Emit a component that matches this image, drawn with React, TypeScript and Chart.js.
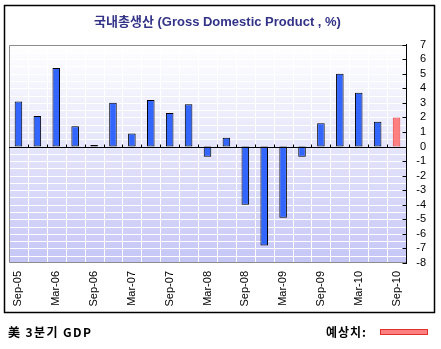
import React, { useEffect, useRef } from 'react';
import { Chart, registerables } from 'chart.js';

Chart.register(...registerables);

const quarters = [
  'Sep-05', 'Dec-05', 'Mar-06', 'Jun-06', 'Sep-06', 'Dec-06', 'Mar-07',
  'Jun-07', 'Sep-07', 'Dec-07', 'Mar-08', 'Jun-08', 'Sep-08', 'Dec-08',
  'Mar-09', 'Jun-09', 'Sep-09', 'Dec-09', 'Mar-10', 'Jun-10', 'Sep-10',
];
const gdpValues = [
  3.1, 2.1, 5.4, 1.4, 0.1, 3.0, 0.9, 3.2, 2.3, 2.9, -0.7,
  0.6, -4.0, -6.8, -4.9, -0.7, 1.6, 5.0, 3.7, 1.7, 2.0,
];
const estimateFlags = [
  false, false, false, false, false, false, false, false, false, false, false,
  false, false, false, false, false, false, false, false, false, true,
];
const yMin = -8;
const yMax = 7;
const titleText = '국내총생산 (Gross Domestic Product , %)';
const footLeft = '美 3분기 GDP';
const footRight = '예상치:';

const FONT = '"Liberation Sans", Arial, "Noto Sans CJK KR", sans-serif';

const decorPlugin = {
  id: 'decor',
  beforeDraw(chart: any) {
    const { ctx, chartArea: a, scales } = chart;
    const y = scales.y;
    const x = scales.x;
    ctx.save();
    const g = ctx.createLinearGradient(0, a.top, 0, a.bottom);
    g.addColorStop(0, '#ffffff');
    g.addColorStop(1, '#c6c6f6');
    ctx.fillStyle = g;
    ctx.fillRect(a.left, a.top, a.right - a.left, a.bottom - a.top);
    ctx.strokeStyle = '#ffffff';
    ctx.lineWidth = 1;
    for (let v = yMin + 0.5; v < yMax; v += 0.5) {
      const py = Math.round(y.getPixelForValue(v)) + 0.5;
      ctx.beginPath();
      ctx.moveTo(a.left, py);
      ctx.lineTo(a.right, py);
      ctx.stroke();
    }
    for (let i = 1; i < quarters.length; i++) {
      const px = Math.round((x.getPixelForValue(i - 1) + x.getPixelForValue(i)) / 2) + 0.5;
      ctx.beginPath();
      ctx.moveTo(px, a.top);
      ctx.lineTo(px, a.bottom);
      ctx.stroke();
    }
    ctx.strokeStyle = '#8c8c8c';
    ctx.beginPath();
    ctx.moveTo(a.right, Math.round(a.top) + 0.5);
    ctx.lineTo(Math.round(a.left) + 0.5, Math.round(a.top) + 0.5);
    ctx.lineTo(Math.round(a.left) + 0.5, Math.round(a.bottom) - 0.5);
    ctx.lineTo(a.right, Math.round(a.bottom) - 0.5);
    ctx.stroke();
    ctx.restore();
  },
  afterDatasetsDraw(chart: any) {
    const { ctx, chartArea: a, scales } = chart;
    const y = scales.y;
    const x = scales.x;
    ctx.save();
    ctx.strokeStyle = '#000000';
    ctx.lineWidth = 1;
    const zy = Math.round(y.getPixelForValue(0)) + 0.5;
    ctx.beginPath();
    ctx.moveTo(a.left, zy);
    ctx.lineTo(a.right, zy);
    ctx.stroke();
    for (let i = 1; i < quarters.length; i++) {
      const px = Math.round((x.getPixelForValue(i - 1) + x.getPixelForValue(i)) / 2) + 0.5;
      ctx.beginPath();
      ctx.moveTo(px, zy);
      ctx.lineTo(px, zy - 3);
      ctx.stroke();
    }
    const rx = Math.round(a.right) + 0.5;
    for (let v = yMin; v <= yMax; v++) {
      const py = Math.round(y.getPixelForValue(v)) + 0.5;
      ctx.beginPath();
      ctx.moveTo(rx - 4, py);
      ctx.lineTo(rx, py);
      ctx.stroke();
    }
    ctx.restore();
  },
  afterDraw(chart: any) {
    const { ctx } = chart;
    ctx.save();
    ctx.strokeStyle = '#000000';
    ctx.lineWidth = 1.5;
    ctx.strokeRect(4.5, 5.5, 430, 307);
    ctx.restore();
  },
};

export default function App() {
  const canvasRef = useRef<HTMLCanvasElement | null>(null);

  useEffect(() => {
    const canvas = canvasRef.current;
    if (!canvas) return;
    const chart = new Chart(canvas, {
      type: 'bar',
      data: {
        labels: quarters,
        datasets: [
          {
            data: gdpValues,
            backgroundColor: estimateFlags.map((e) => (e ? '#ff8080' : '#3366ff')),
            borderColor: estimateFlags.map((e) => (e ? '#e83c3c' : '#000000')),
            borderWidth: 1,
            borderSkipped: false,
            barPercentage: 0.4,
            categoryPercentage: 1,
          },
        ],
      },
      options: {
        responsive: false,
        animation: false,
        events: [],
        layout: { padding: { left: 9, right: 15, top: 0, bottom: 37 } },
        plugins: {
          legend: { display: false },
          tooltip: { enabled: false },
          title: {
            display: true,
            text: titleText,
            color: '#333388',
            font: { family: FONT, size: 13, weight: 'bold', lineHeight: 1.2 },
            padding: { top: 15, bottom: 14 },
          },
        },
        scales: {
          x: {
            grid: { display: false, drawTicks: false },
            border: { display: false },
            ticks: {
              autoSkip: false,
              minRotation: 90,
              maxRotation: 90,
              padding: 8,
              color: '#000000',
              font: { family: FONT, size: 11 },
              callback: (_v: any, i: number) => (i % 2 === 0 ? quarters[i] : ''),
            },
            afterFit: (s: any) => {
              s.height = 49;
            },
          },
          y: {
            position: 'right',
            min: yMin,
            max: yMax,
            grid: { display: false, drawTicks: false },
            border: { display: true, color: '#000000', width: 1 },
            ticks: {
              stepSize: 1,
              autoSkip: false,
              padding: 4,
              crossAlign: 'far',
              color: '#000000',
              font: { family: FONT, size: 11 },
            },
            afterFit: (s: any) => {
              s.width = 20;
            },
          },
        },
      },
      plugins: [decorPlugin],
    } as any);
    return () => chart.destroy();
  }, []);

  return (
    <div
      style={{
        position: 'fixed',
        left: 0,
        top: 0,
        width: 441,
        height: 349,
        background: '#ffffff',
        overflow: 'hidden',
      }}
    >
      <canvas ref={canvasRef} width={441} height={349} style={{ display: 'block', width: 441, height: 349 }} />
      <div
        style={{
          position: 'absolute',
          left: 8,
          top: 324,
          font: 'bold 12px "Noto Sans CJK KR", "Liberation Sans", sans-serif',
          lineHeight: '16px',
          letterSpacing: '1.4px',
          color: '#000000',
          whiteSpace: 'nowrap',
        }}
      >
        {footLeft}
      </div>
      <div
        style={{
          position: 'absolute',
          left: 326,
          top: 324,
          font: 'bold 12px "Noto Sans CJK KR", "Liberation Sans", sans-serif',
          lineHeight: '16px',
          letterSpacing: '1px',
          color: '#000000',
          whiteSpace: 'nowrap',
        }}
      >
        {footRight}
      </div>
      <div
        style={{
          position: 'absolute',
          left: 380,
          top: 329,
          width: 46,
          height: 4,
          background: '#ff8080',
          border: '1px solid #e03030',
        }}
      />
    </div>
  );
}
